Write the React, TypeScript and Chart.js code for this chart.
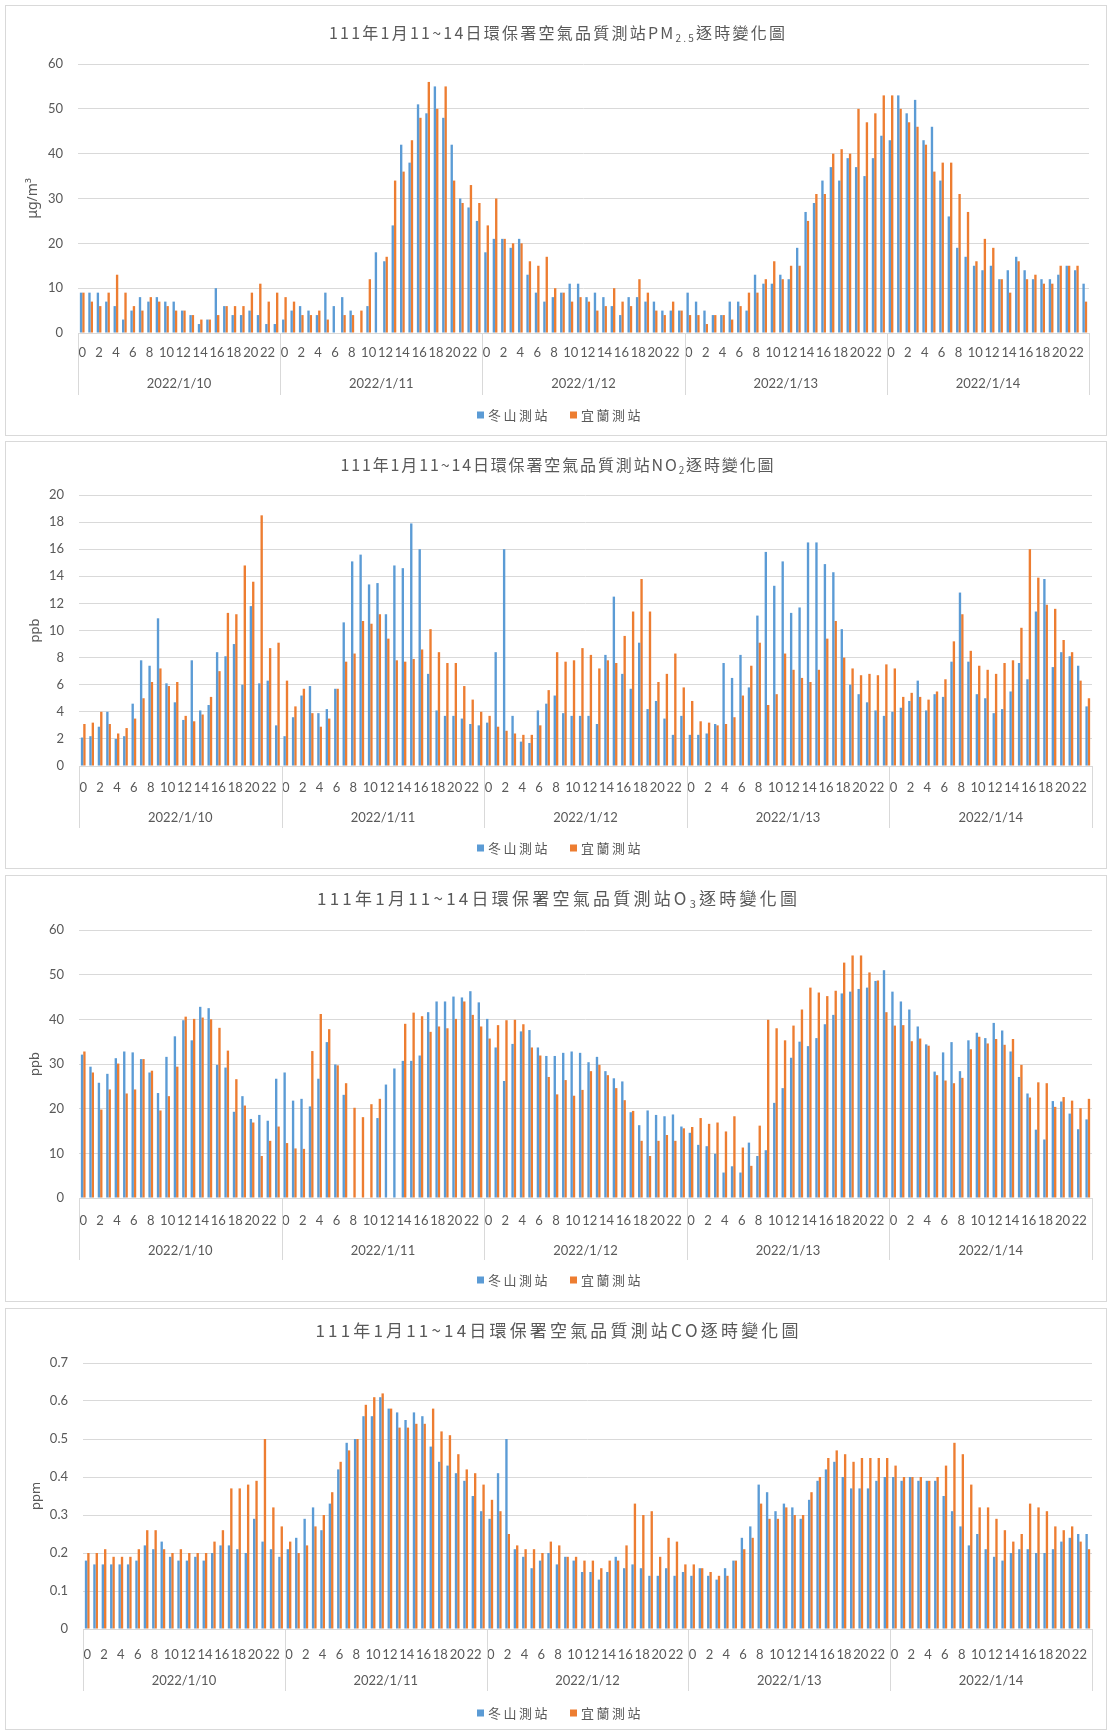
import React, { useEffect, useRef } from 'react';
import { Chart, registerables } from 'chart.js';

Chart.register(...registerables);

// ---------------- data ----------------
const DAY_LABELS = ['2022/1/10', '2022/1/11', '2022/1/12', '2022/1/13', '2022/1/14'];
const HOUR_LABELS = ['0', '1', '2', '3', '4', '5', '6', '7', '8', '9', '10', '11', '12', '13', '14', '15', '16', '17', '18', '19', '20', '21', '22', '23'];
const SERIES_NAMES = ['冬山測站', '宜蘭測站'];
const CATEGORIES = DAY_LABELS.flatMap(() => HOUR_LABELS);

const PM25_DONGSHAN = [
  9, 9, 9, 7, 6, 3, 5, 8, 7, 8, 7, 7, 5, 4, 2, 3, 10, 6, 4, 4, 5, 4, 2, 2,
  3, 5, 6, 5, 4, 9, 6, 8, 5, null, 6, 18, 16, 24, 42, 38, 51, 49, 55, 48, 42, 30, 28, 25,
  18, 21, 21, 19, 21, 13, 9, 7, 8, 9, 11, 11, 8, 9, 8, 6, 4, 8, 8, 7, 7, 5, 5, 5,
  9, 7, 5, 4, 4, 7, 7, 5, 13, 11, 11, 13, 12, 19, 27, 29, 34, 37, 34, 39, 37, 35, 39, 44,
  43, 53, 49, 52, 43, 46, 34, 26, 19, 17, 15, 14, 15, 12, 14, 17, 14, 12, 12, 12, 13, 15, 14, 11,
];
const PM25_YILAN = [
  9, 7, 6, 9, 13, 9, 6, 5, 8, 7, 6, 5, 5, 4, 3, 3, 4, 6, 6, 6, 9, 11, 7, 9,
  8, 7, 4, 4, 5, 3, null, 4, 4, 5, 12, null, 17, 34, 36, 43, 48, 56, 50, 55, 34, 29, 33, 29,
  24, 30, 21, 20, 20, 16, 15, 17, 10, 9, 7, 8, 7, 5, 6, 10, 7, 6, 12, 9, 5, 4, 7, 5,
  4, 4, 2, 4, 4, 3, 6, 9, 9, 12, 16, 12, 15, 15, 25, 31, 31, 40, 41, 40, 50, 47, 49, 53,
  53, 50, 47, 46, 42, 36, 38, 38, 31, 27, 16, 21, 19, 12, 9, 16, 12, 13, 11, 11, 15, 15, 15, 7,
];

const NO2_DONGSHAN = [
  2.1, 2.2, 2.9, 4.0, 2.0, 2.2, 4.6, 7.8, 7.4, 10.9, 6.1, 4.7, 3.4, 7.8, 4.1, 4.5, 8.4, 8.1, 9.0, 6.0, 11.8, 6.1, 6.3, 3.0,
  2.2, 3.6, 5.2, 5.9, 3.9, 4.2, 5.7, 10.6, 15.1, 15.6, 13.4, 13.5, 11.2, 14.8, 14.6, 17.9, 16.0, 6.8, 4.1, 3.7, 3.7, 3.5, 3.1, 3.0,
  3.2, 8.4, 16.0, 3.7, 1.8, 1.7, 4.1, 4.6, 5.2, 3.9, 3.7, 3.7, 3.7, 3.1, 8.2, 12.5, 6.8, 5.7, 9.1, 4.2, 4.8, 3.5, 2.3, 3.7,
  2.3, 2.3, 2.4, 3.1, 7.6, 6.5, 8.2, 5.8, 11.1, 15.8, 13.3, 15.1, 11.3, 11.7, 16.5, 16.5, 14.9, 14.3, 10.1, 6.0, 5.3, 4.7, 4.1, 3.7,
  4.0, 4.3, 4.8, 6.3, 4.1, 5.3, 5.1, 7.7, 12.8, 7.7, 5.3, 5.0, 3.9, 4.2, 5.5, 7.6, 6.4, 11.4, 13.8, 7.3, 8.4, 8.1, 7.4, 4.4,
];
const NO2_YILAN = [
  3.1, 3.2, 4.0, 3.1, 2.4, 2.8, 3.5, 5.0, 6.2, 7.2, 5.9, 6.2, 3.7, 3.3, 3.8, 5.1, 7.0, 11.3, 11.2, 14.8, 13.6, 18.5, 8.7, 9.1,
  6.3, 4.4, 5.7, 3.9, 2.9, 3.5, 5.7, 7.7, 8.3, 10.7, 10.5, 11.2, 9.4, 7.8, 7.7, 7.9, 8.6, 10.1, 8.4, 7.6, 7.6, 5.9, 4.9, 4.0,
  3.7, 2.9, 2.6, 2.4, 2.3, 2.3, 3.0, 5.6, 8.4, 7.7, 7.8, 8.7, 8.2, 7.2, 7.8, 7.6, 9.6, 11.4, 13.8, 11.4, 6.2, 6.8, 8.3, 5.8,
  4.8, 3.3, 3.2, 3.0, 3.1, 3.6, 5.2, 7.4, 9.1, 4.5, 5.3, 8.3, 7.1, 6.5, 6.2, 7.1, 9.4, 10.7, 8.0, 7.2, 6.7, 6.8, 6.7, 7.5,
  7.2, 5.1, 5.4, 5.1, 4.9, 5.5, 6.4, 9.2, 11.2, 8.5, 7.4, 7.1, 6.8, 7.6, 7.8, 10.2, 16.0, 13.9, 11.9, 11.6, 9.3, 8.4, 6.3, 5.0,
];

const O3_DONGSHAN = [
  32.1, 29.4, 25.8, 27.8, 31.3, 32.8, 32.6, 31.1, 28.1, 23.5, 31.6, 36.2, 39.8, 35.3, 42.8, 42.5, 29.8, 29.2, 19.3, 22.8, 17.7, 18.6, 17.3, 26.7,
  28.1, 21.8, 22.2, 20.5, 26.7, 34.9, 29.9, 23.1, null, null, null, 17.9, 25.4, 29.0, 30.7, 30.7, 31.9, 41.6, 44.0, 44.0, 45.1, 44.9, 46.3, 43.8,
  40.1, 33.7, 26.2, 34.5, 37.3, 37.6, 33.7, 31.8, 31.8, 32.5, 32.8, 32.5, 30.4, 31.6, 28.4, 26.8, 26.1, 19.2, 16.3, 19.6, 18.6, 18.3, 18.7, 16.0,
  14.6, 11.9, 11.6, 9.9, 5.7, 7.1, 5.7, 12.4, 9.4, 10.7, 21.3, 24.6, 31.4, 35.0, 34.0, 35.8, 38.9, 41.0, 45.8, 46.2, 46.8, 47.1, 48.6, 51.0,
  46.2, 44.0, 42.2, 38.4, 34.4, 28.3, 32.6, 34.9, 28.4, 35.3, 37.0, 35.8, 39.2, 37.5, 32.8, 27.1, 23.4, 15.3, 13.1, 21.7, 21.6, 18.9, 15.4, 17.6,
];
const O3_YILAN = [
  32.8, 28.1, 19.8, 24.3, 30.1, 23.4, 24.3, 31.1, 28.5, 19.6, 22.8, 29.4, 40.6, 40.1, 40.4, 40.0, 38.1, 33.0, 26.6, 20.7, 16.9, 9.4, 12.8, 16.0,
  12.3, 11.1, 11.0, 32.9, 41.2, 37.8, 29.7, 25.7, 20.2, 18.1, 21.0, 22.2, null, null, 39.0, 41.5, 40.7, 37.2, 38.4, 38.0, 40.1, 44.0, 41.0, 38.4,
  35.7, 38.7, 39.8, 39.9, 38.9, 33.7, 31.9, 27.1, 23.2, 26.4, 22.9, 24.2, 28.4, 29.8, 27.5, 24.6, 21.9, 19.5, 12.8, 9.4, 12.8, 14.1, 12.8, 15.6,
  15.9, 17.9, 16.6, 16.9, 14.9, 18.3, 11.3, 7.2, 16.2, 39.9, 38.0, 35.3, 38.6, 42.2, 47.1, 46.0, 45.2, 46.4, 52.7, 54.3, 54.3, 50.5, 48.7, 41.6,
  38.6, 38.7, 35.1, 35.7, 34.1, 27.5, 26.3, 25.7, 26.9, 33.3, 36.1, 34.6, 35.6, 34.3, 35.6, 29.8, 22.5, 25.9, 25.7, 20.4, 22.6, 21.8, 20.1, 22.2,
];

const CO_DONGSHAN = [
  0.18, 0.17, 0.17, 0.17, 0.17, 0.17, 0.18, 0.22, 0.21, 0.23, 0.19, 0.18, 0.18, 0.19, 0.18, 0.20, 0.22, 0.22, 0.21, 0.20, 0.29, 0.23, 0.21, 0.19,
  0.21, 0.24, 0.29, 0.32, 0.26, 0.33, 0.42, 0.49, 0.50, 0.56, 0.56, 0.61, 0.58, 0.57, 0.55, 0.57, 0.56, 0.48, 0.44, 0.43, 0.41, 0.39, 0.35, 0.31,
  0.29, 0.41, 0.50, 0.21, 0.19, 0.16, 0.18, 0.20, 0.17, 0.19, 0.18, 0.15, 0.15, 0.13, 0.15, 0.19, 0.16, 0.17, 0.16, 0.14, 0.14, 0.16, 0.14, 0.15,
  0.14, 0.16, 0.14, 0.13, 0.16, 0.18, 0.24, 0.27, 0.38, 0.36, 0.31, 0.33, 0.32, 0.29, 0.34, 0.39, 0.42, 0.44, 0.40, 0.37, 0.37, 0.37, 0.39, 0.40,
  0.40, 0.39, 0.40, 0.39, 0.39, 0.39, 0.35, 0.31, 0.27, 0.22, 0.25, 0.21, 0.19, 0.18, 0.20, 0.21, 0.21, 0.20, 0.20, 0.21, 0.23, 0.24, 0.25, 0.25,
];
const CO_YILAN = [
  0.20, 0.20, 0.21, 0.19, 0.19, 0.19, 0.21, 0.26, 0.26, 0.21, 0.20, 0.21, 0.20, 0.20, 0.20, 0.23, 0.26, 0.37, 0.37, 0.38, 0.39, 0.50, 0.32, 0.27,
  0.23, 0.20, 0.22, 0.27, 0.30, 0.36, 0.44, 0.47, 0.50, 0.59, 0.61, 0.62, 0.58, 0.53, 0.53, 0.54, 0.54, 0.58, 0.52, 0.51, 0.46, 0.42, 0.41, 0.38,
  0.34, 0.31, 0.25, 0.22, 0.21, 0.21, 0.20, 0.23, 0.22, 0.19, 0.19, 0.18, 0.18, 0.16, 0.18, 0.18, 0.22, 0.33, 0.30, 0.31, 0.19, 0.24, 0.23, 0.17,
  0.17, 0.16, 0.15, 0.14, 0.14, 0.18, 0.21, 0.24, 0.33, 0.29, 0.29, 0.32, 0.30, 0.30, 0.36, 0.40, 0.45, 0.47, 0.46, 0.44, 0.45, 0.45, 0.45, 0.45,
  0.43, 0.40, 0.40, 0.40, 0.39, 0.40, 0.43, 0.49, 0.46, 0.38, 0.32, 0.32, 0.29, 0.26, 0.23, 0.25, 0.33, 0.32, 0.31, 0.27, 0.26, 0.27, 0.23, 0.21,
];

// ---------------- style ----------------
const BLUE = '#5B9BD5';
const ORANGE = '#ED7D31';
const TEXT = '#595959';
const GRID = '#d9d9d9';
const CJK = '"Noto Sans CJK TC", "Noto Sans", sans-serif';
const NUM = 'Lato, "Noto Sans", sans-serif';
const CANVAS_W = 1100;
const X_AXIS_H = 70;

type Seg = { t: string; sub?: boolean };
type Spec = {
  top: number; h: number;
  title: Seg[]; titleY: number; titleW: number; titleSize: number;
  yTitle: string; yTitleX: number; yTitleSize: number;
  yMax: number; yStep: number;
  blue: (number | null)[]; orange: (number | null)[];
  plot: { left: number; right: number; top: number; bottom: number };
  hourPad: number; dayOffset: number; legendY: number;
};

const TITLE_PREFIX = '111年1月11~14日環保署空氣品質測站';
const TITLE_SUFFIX = '逐時變化圖';

const SPECS: Spec[] = [
  {
    top: 5, h: 429,
    title: [{ t: TITLE_PREFIX + 'PM' }, { t: '2.5', sub: true }, { t: TITLE_SUFFIX }],
    titleY: 27, titleW: 456, titleSize: 16,
    yTitle: 'μg/m³', yTitleX: 27, yTitleSize: 14,
    yMax: 60, yStep: 10, blue: PM25_DONGSHAN, orange: PM25_YILAN,
    plot: { left: 72, right: 1083, top: 58, bottom: 327 },
    hourPad: 12, dayOffset: 51, legendY: 409,
  },
  {
    top: 441, h: 426,
    title: [{ t: TITLE_PREFIX + 'NO' }, { t: '2', sub: true }, { t: TITLE_SUFFIX }],
    titleY: 23, titleW: 433, titleSize: 16,
    yTitle: 'ppb', yTitleX: 29, yTitleSize: 13,
    yMax: 20, yStep: 2, blue: NO2_DONGSHAN, orange: NO2_YILAN,
    plot: { left: 73, right: 1086, top: 53, bottom: 324 },
    hourPad: 14, dayOffset: 52, legendY: 406,
  },
  {
    top: 875, h: 425,
    title: [{ t: TITLE_PREFIX + 'O' }, { t: '3', sub: true }, { t: TITLE_SUFFIX }],
    titleY: 23, titleW: 480, titleSize: 17,
    yTitle: 'ppb', yTitleX: 29, yTitleSize: 13,
    yMax: 60, yStep: 10, blue: O3_DONGSHAN, orange: O3_YILAN,
    plot: { left: 73, right: 1086, top: 54, bottom: 322 },
    hourPad: 15, dayOffset: 53, legendY: 404,
  },
  {
    top: 1308, h: 420,
    title: [{ t: TITLE_PREFIX + 'CO' + TITLE_SUFFIX }],
    titleY: 22, titleW: 483, titleSize: 17,
    yTitle: 'ppm', yTitleX: 30, yTitleSize: 13,
    yMax: 0.7, yStep: 0.1, blue: CO_DONGSHAN, orange: CO_YILAN,
    plot: { left: 77, right: 1086, top: 54, bottom: 320 },
    hourPad: 18, dayOffset: 52, legendY: 404,
  },
];

function drawSpaced(ctx: CanvasRenderingContext2D, text: string, x: number, y: number, gap: number) {
  let cx = x;
  for (const ch of Array.from(text)) {
    ctx.fillText(ch, cx, y);
    cx += ctx.measureText(ch).width + gap;
  }
  return cx;
}

function makeDecor(spec: Spec) {
  return {
    id: 'decor',
    afterDraw(chart: any) {
      const ctx: CanvasRenderingContext2D = chart.ctx;
      const area = chart.chartArea;
      ctx.save();
      ctx.fillStyle = TEXT;
      ctx.textBaseline = 'middle';
      ctx.textAlign = 'left';

      // title with subscript
      const subSize = Math.round(spec.titleSize * 0.62);
      const fontFor = (sub?: boolean) => `${sub ? subSize : spec.titleSize}px ${CJK}`;
      let natural = 0;
      let count = 0;
      for (const seg of spec.title) {
        ctx.font = fontFor(seg.sub);
        for (const ch of Array.from(seg.t)) { natural += ctx.measureText(ch).width; count++; }
      }
      const gap = count > 1 ? (spec.titleW - natural) / (count - 1) : 0;
      let x = 551 - spec.titleW / 2;
      for (const seg of spec.title) {
        ctx.font = fontFor(seg.sub);
        x = drawSpaced(ctx, seg.t, x, spec.titleY + (seg.sub ? spec.titleSize * 0.3 : 0), gap);
      }

      // y axis title
      ctx.save();
      ctx.translate(spec.yTitleX, (area.top + area.bottom) / 2);
      ctx.rotate(-Math.PI / 2);
      ctx.textAlign = 'center';
      ctx.font = `${spec.yTitleSize}px "Noto Sans", sans-serif`;
      ctx.fillText(spec.yTitle, 0, 0);
      ctx.restore();

      // day separators and day labels
      const dayW = (area.right - area.left) / DAY_LABELS.length;
      ctx.strokeStyle = GRID;
      ctx.lineWidth = 1;
      for (let d = 0; d <= DAY_LABELS.length; d++) {
        const lx = Math.round(area.left + d * dayW) + 0.5;
        ctx.beginPath();
        ctx.moveTo(lx, area.bottom);
        ctx.lineTo(lx, area.bottom + 62);
        ctx.stroke();
      }
      ctx.font = `13px ${NUM}`;
      ctx.textAlign = 'center';
      DAY_LABELS.forEach((lab, d) => {
        ctx.fillText(lab, area.left + (d + 0.5) * dayW, area.bottom + spec.dayOffset);
      });

      // legend
      ctx.textAlign = 'left';
      ctx.font = `13px ${CJK}`;
      const items = [
        { name: SERIES_NAMES[0], color: BLUE, sq: 471, tx: 482 },
        { name: SERIES_NAMES[1], color: ORANGE, sq: 564, tx: 575 },
      ];
      for (const it of items) {
        ctx.fillStyle = it.color;
        ctx.fillRect(it.sq, spec.legendY - 3.5, 7, 7);
        ctx.fillStyle = TEXT;
        drawSpaced(ctx, it.name, it.tx, spec.legendY, 2.5);
      }
      ctx.restore();
    },
  };
}

function Panel({ spec }: { spec: Spec }) {
  const ref = useRef<HTMLCanvasElement>(null);
  useEffect(() => {
    const canvas = ref.current;
    if (!canvas) return;
    const chart = new Chart(canvas, {
      type: 'bar',
      data: {
        labels: CATEGORIES,
        datasets: [
          { label: SERIES_NAMES[0], data: spec.blue, backgroundColor: BLUE, categoryPercentage: 0.56, barPercentage: 1 },
          { label: SERIES_NAMES[1], data: spec.orange, backgroundColor: ORANGE, categoryPercentage: 0.56, barPercentage: 1 },
        ],
      },
      options: {
        responsive: false,
        maintainAspectRatio: false,
        animation: false,
        events: [],
        layout: {
          padding: {
            left: 0,
            top: spec.plot.top,
            right: CANVAS_W - spec.plot.right,
            bottom: spec.h - spec.plot.bottom - X_AXIS_H,
          },
        },
        plugins: {
          legend: { display: false },
          title: { display: false },
          tooltip: { enabled: false },
        },
        scales: {
          x: {
            type: 'category',
            grid: { display: false, drawTicks: false },
            border: { display: true, color: GRID },
            ticks: {
              autoSkip: false,
              maxRotation: 0,
              minRotation: 0,
              padding: spec.hourPad,
              color: TEXT,
              font: { family: NUM, size: 13 },
              callback: (_v: any, index: number) => (index % 2 === 0 ? CATEGORIES[index] : ''),
            },
            afterFit: (s: any) => { s.height = X_AXIS_H; },
          },
          y: {
            min: 0,
            max: spec.yMax,
            grid: { color: GRID, drawTicks: false },
            border: { display: false },
            ticks: {
              stepSize: spec.yStep,
              padding: 15,
              color: TEXT,
              font: { family: NUM, size: 13 },
            },
            afterFit: (s: any) => { s.width = spec.plot.left; },
          },
        },
      } as any,
      plugins: [makeDecor(spec)],
    });
    return () => chart.destroy();
  }, [spec]);
  return (
    <div
      style={{
        position: 'absolute', left: 5, top: spec.top, width: CANVAS_W, height: spec.h,
        border: `1px solid ${GRID}`, background: '#fff',
      }}
    >
      <canvas ref={ref} width={CANVAS_W} height={spec.h} style={{ display: 'block', width: CANVAS_W, height: spec.h }} />
    </div>
  );
}

export default function App() {
  return (
    <div style={{ position: 'absolute', left: 0, top: 0, width: 1108, height: 1730, background: '#fff' }}>
      {SPECS.map((s, i) => <Panel key={i} spec={s} />)}
    </div>
  );
}
